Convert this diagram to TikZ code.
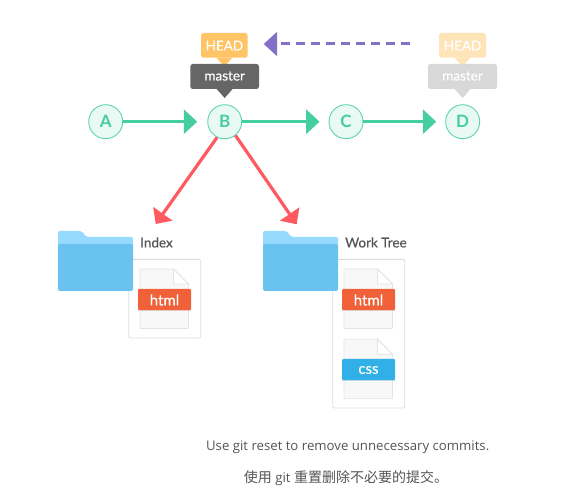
\documentclass[tikz,border=0pt]{standalone}
\usepackage{fontspec}
\setmainfont{Lato}
\newfontfamily\medfont[FakeBold=0.35]{Lato}
\newfontfamily\capfont{Open Sans}
\newfontfamily\cjkfont{Noto Sans CJK SC}
\definecolor{grn}{HTML}{45CE9E}
\definecolor{grnfill}{HTML}{E9F9F3}
\definecolor{grnline}{HTML}{5FD4AB}
\definecolor{headc}{HTML}{FFC466}
\definecolor{headg}{HTML}{FFE4B8}
\definecolor{masterc}{HTML}{666666}
\definecolor{masterg}{HTML}{D8D8D8}
\definecolor{purp}{HTML}{8470C8}
\definecolor{redc}{HTML}{FF5A5F}
\definecolor{fback}{HTML}{96DAFF}
\definecolor{ffront}{HTML}{69C3EE}
\definecolor{boxl}{HTML}{DDDDDD}
\definecolor{docl}{HTML}{E4E4E4}
\definecolor{docf}{HTML}{F8F8F8}
\definecolor{orng}{HTML}{F06139}
\definecolor{blu}{HTML}{31B0E8}
\definecolor{txt}{HTML}{555555}
\usetikzlibrary{arrows.meta}
\tikzset{
  commit/.style={circle,draw=grnline,fill=grnfill,line width=.9pt,minimum size=34pt,inner sep=0pt,text=grn,font=\fontsize{17}{17}\selectfont\bfseries},
  flow/.style={draw=grn,line width=3.4pt,-{Triangle[length=13.5pt,width=24pt]}},
  redarrow/.style={draw=redc,line width=3.2pt,-{Triangle[length=12.5pt,width=23pt]}},
  undo/.style={draw=purp,line width=3pt,dash pattern=on 9pt off 6pt,-{Triangle[length=13.5pt,width=24pt]}},
  tagtext/.style={text=white,inner sep=0pt,font=\fontsize{13.5}{13.5}\selectfont\medfont},
  filetag/.style={text=white,inner sep=0pt,font=\fontsize{15}{15}\selectfont\medfont},
  lbl/.style={text=txt,anchor=west,inner sep=0pt,font=\fontsize{13.5}{13.5}\selectfont\medfont},
  captext/.style={text=txt,inner sep=0pt,font=\fontsize{13.2}{13.2}\selectfont\capfont},
  frame/.style={draw=boxl,line width=.9pt,rounded corners=2pt},
}
\newcommand{\pointer}[6]{% x0,x1,y0,y1 (rect), colour, tip depth
  \fill[#5,rounded corners=2.5pt] (#1,#3) rectangle (#2,#4);
  \fill[#5] ({(#1+#2)/2-8},#4) -- ({(#1+#2)/2+8},#4) -- ({(#1+#2)/2},#4+#6) -- cycle;
}
\newcommand{\folder}[1]{% left x
  \fill[fback,rounded corners=2pt] (#1,250) -- (#1,231) -- (#1+24,231) -- (#1+28,237) -- (#1+75,237) -- (#1+75,250) -- cycle;
  \fill[ffront,rounded corners=2pt] (#1,244) rectangle (#1+75,291);
}
\newcommand{\doc}[2]{% left x, top y
  \draw[draw=docl,fill=docf,line width=.8pt,rounded corners=.6pt] (#1,#2) -- (#1+33.5,#2) -- (#1+48.5,#2+15) -- (#1+48.5,#2+59.5) -- (#1,#2+59.5) -- cycle;
  \draw[draw=docl,fill=white,line width=.8pt] (#1+33.5,#2) -- (#1+33.5,#2+15) -- (#1+48.5,#2+15) -- cycle;
}
\newcommand{\ftag}[3]{% left x, top y, colour
  \fill[#3!70!black,opacity=.25] (#1,#2+1) rectangle (#1+53,#2+22);
  \fill[#3,rounded corners=1pt] (#1,#2) rectangle (#1+53,#2+21);
}
\begin{document}
\begin{tikzpicture}[x=1pt,y=-1pt]
\useasboundingbox (0,0) rectangle (573,502);
% commits
\node[commit] (A) at (105.7,121.7) {A};
\node[commit] (B) at (224.7,121.7) {B};
\node[commit] (C) at (346,121.7) {C};
\node[commit] (D) at (462.7,121.7) {D};
\draw[flow,shorten >=10pt] (A) -- (B);
\draw[flow,shorten >=9pt] (B) -- (C);
\draw[flow,shorten >=9pt] (C) -- (D);
% tags
\pointer{201}{247.7}{33}{57.7}{headc}{9}
\node[tagtext] (headB) at (224.4,45.6) {HEAD};
\pointer{190.3}{259}{64}{89}{masterc}{9}
\node[tagtext] (masterB) at (224.7,76) {master};
\pointer{439}{486}{33}{57.7}{headg}{9}
\node[tagtext] (headD) at (462.5,45.6) {HEAD};
\pointer{428}{497}{64}{89}{masterg}{9}
\node[tagtext] (masterD) at (462.5,76) {master};
% undo arrow
\coordinate (undoS) at (410,44);
\coordinate (undoE) at (263.7,44);
\draw[undo] (undoS) -- (undoE);
% frames
\node[frame,minimum width=72pt,minimum height=78.7pt,inner sep=0pt] (indexbox) at (164.7,298.7) {};
\node[frame,minimum width=72pt,minimum height=148.7pt,inner sep=0pt] (treebox) at (368.7,333.7) {};
% folders
\folder{58}
\folder{263}
\node[lbl] (indexl) at (140,242.5) {Index};
\node[lbl] (treel) at (345,242.5) {Work Tree};
% documents
\doc{140}{269}
\ftag{138}{289}{orng}
\node[filetag] (h1) at (164.5,300) {html};
\doc{344}{269}
\ftag{342}{289}{orng}
\node[filetag] (h2) at (368.5,300) {html};
\doc{344}{339.3}
\ftag{342}{359}{blu}
\node[filetag] (c1) at (368.5,370) {css};
% red arrows
\coordinate (r1) at (155.7,224);
\coordinate (r2) at (296.7,224.3);
\draw[redarrow] (B.244) -- (r1);
\draw[redarrow] (B.308) -- (r2);
% caption
\node[captext] (cap1) at (347.7,447.5) {Use git reset to remove unnecessary commits.};
\node[captext] (cap2) at (346,478.5) {{\fontsize{14}{14}\selectfont\cjkfont 使用} git {\fontsize{14}{14}\selectfont\cjkfont 重置删除不必要的提交。}};
\end{tikzpicture}
\end{document}
